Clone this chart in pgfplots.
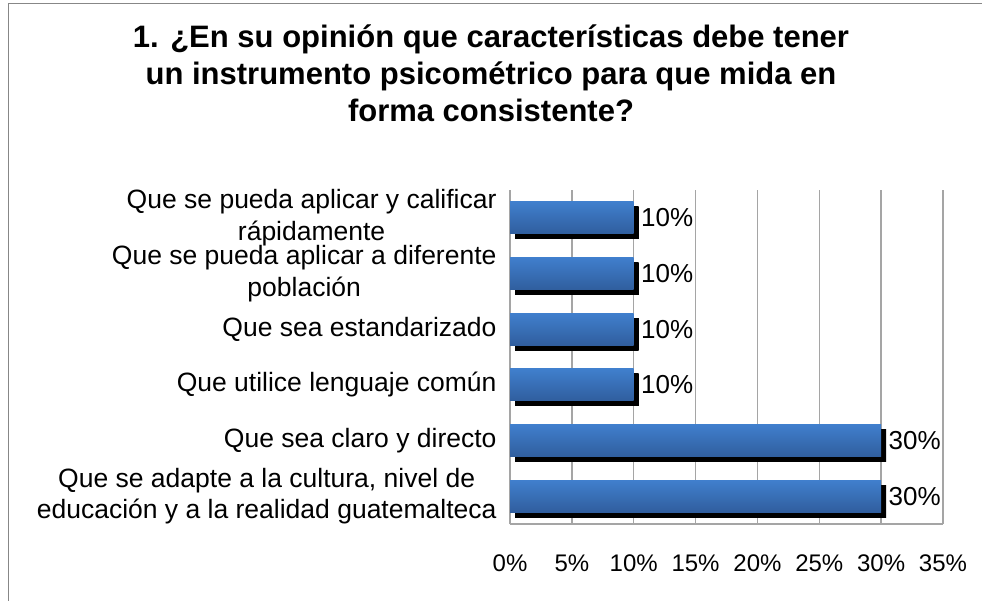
\documentclass[border=0pt]{standalone}
\usepackage{fontspec}
\setmainfont{Liberation Sans}
\usepackage{pgfplots}
\pgfplotsset{compat=1.18}
\usetikzlibrary{shadows}

\definecolor{barTop}{RGB}{64,127,205}
\definecolor{barBot}{RGB}{48,94,158}
\definecolor{gridGrey}{RGB}{165,165,165}
\definecolor{frameGrey}{RGB}{135,135,135}

\pgfplotsset{
  shbar/.style={bar shift=0pt, draw=none, top color=barTop, bottom color=barBot,
    drop shadow={shadow xshift=5pt, shadow yshift=-5pt, opacity=1,
      top color=black, bottom color=black, fill=black}},
}

\begin{document}
\begin{tikzpicture}
\useasboundingbox (0,0) rectangle (982pt,600pt);
% chart frame (only left and top edge are inside the picture)
\draw[frameGrey, line width=1.5pt] (8.5pt,-10pt) -- (8.5pt,596.5pt) -- (995pt,596.5pt);

% title, one node per line
\begin{scope}[every node/.style={anchor=base, font=\fontsize{31}{36}\selectfont\bfseries}]
\node at (491pt,552pt) {1. ¿En su opinión que características debe tener};
\node at (491pt,515pt) {un instrumento psicométrico para que mida en};
\node at (491pt,478pt) {forma consistente?};
\end{scope}

\begin{axis}[
  at={(510pt,76pt)}, anchor=south west,
  scale only axis, width=433pt, height=334pt,
  xbar, bar width=32pt,
  xmin=0, xmax=35, ymin=-0.5, ymax=5.5,
  xtick={0,5,...,35},
  xticklabel={\pgfmathprintnumber{\tick}\%},
  /pgf/number format/assume math mode=true,
  ytick={0,...,5},
  yticklabels={
    {Que se adapte a la cultura, nivel de\\educación y a la realidad guatemalteca},
    {Que sea claro y directo},
    {Que utilice lenguaje común},
    {Que sea estandarizado},
    {Que se pueda aplicar a diferente\\población},
    {Que se pueda aplicar y calificar\\rápidamente}},
  yticklabel style={align=center, font=\fontsize{26.5}{31.5}\selectfont, xshift=-10pt},
  xticklabel style={anchor=base, yshift=-47pt, font=\fontsize{24}{28}\selectfont},
  major tick length=0pt,
  axis x line*=bottom, axis y line*=left,
  axis line style={draw=gridGrey, line width=1.3pt, -},
  xmajorgrids, major grid style={draw=gridGrey, line width=1.3pt},
  clip=false,
]
% one plot per bar so that each bar gets its own shading and shadow
\addplot[shbar] coordinates {(30,0)};
\addplot[shbar] coordinates {(30,1)};
\addplot[shbar] coordinates {(10,2)};
\addplot[shbar] coordinates {(10,3)};
\addplot[shbar] coordinates {(10,4)};
\addplot[shbar] coordinates {(10,5)};
% value labels
\addplot[bar shift=0pt, draw=none, fill=none,
  nodes near coords={\pgfmathprintnumber{\pgfplotspointmeta}\%},
  nodes near coords style={anchor=west, xshift=4pt, font=\fontsize{26}{30}\selectfont, text=black}]
  coordinates {(30,0) (30,1) (10,2) (10,3) (10,4) (10,5)};
\end{axis}
\end{tikzpicture}
\end{document}
